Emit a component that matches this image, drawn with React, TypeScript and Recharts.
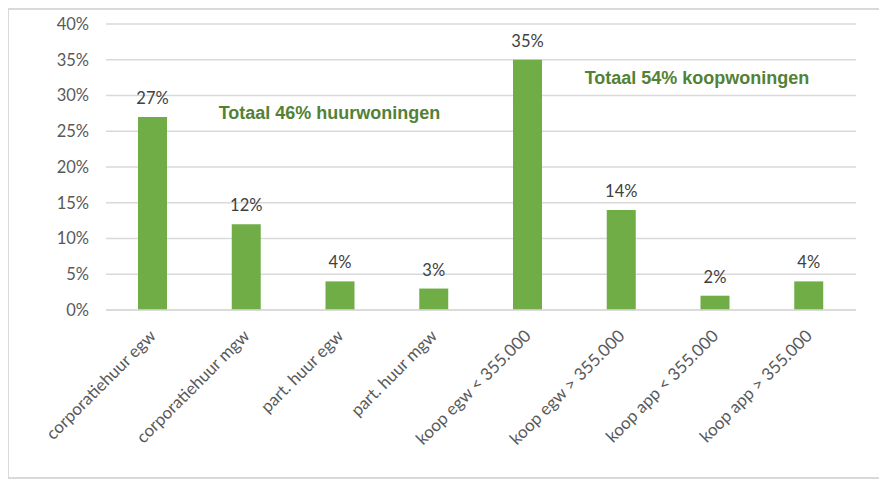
import { Bar, BarChart, CartesianGrid, LabelList, XAxis, YAxis } from "recharts";

const categories = [
  "corporatiehuur egw",
  "corporatiehuur mgw",
  "part. huur egw",
  "part. huur mgw",
  "koop egw < 355.000",
  "koop egw > 355.000",
  "koop app < 355.000",
  "koop app > 355.000",
];
const shares = [27, 12, 4, 3, 35, 14, 2, 4];
const yTicks = [0, 5, 10, 15, 20, 25, 30, 35, 40];

const data = categories.map((name, i) => ({ name, value: shares[i] }));

const FONT = "Lato, 'Open Sans', sans-serif";
const GRID = "#d9d9d9";

function SlantTick({ x, y, payload }: any) {
  return (
    <g transform={`translate(${x + 4},${y + 19}) rotate(-45)`}>
      <text x={0} y={0} textAnchor="end" fill="#595959" fontSize={17} fontFamily={FONT}>
        {payload.value}
      </text>
    </g>
  );
}

const noteStyle: React.CSSProperties = {
  position: "absolute",
  background: "#fff",
  color: "#538135",
  fontFamily: "'Liberation Sans', Arial, sans-serif",
  fontWeight: "bold",
  fontSize: 18,
  display: "flex",
  alignItems: "center",
  justifyContent: "center",
  whiteSpace: "nowrap",
};

export default function App() {
  return (
    <div
      style={{
        position: "relative",
        width: 870,
        height: 467,
        border: `2px solid ${GRID}`,
        marginLeft: -1,
        background: "#fff",
      }}
    >
      <BarChart width={870} height={467} data={data} margin={{ top: 14, right: 23, left: 0, bottom: 0 }}>
        <CartesianGrid vertical={false} stroke={GRID} strokeWidth={1.5} />
        <XAxis
          dataKey="name"
          height={167}
          interval={0}
          tickLine={false}
          axisLine={{ stroke: GRID, strokeWidth: 1.5 }}
          tick={<SlantTick />}
        />
        <YAxis
          width={97}
          domain={[0, 40]}
          ticks={yTicks}
          tickFormatter={(v: number) => `${v}%`}
          axisLine={false}
          tickLine={false}
          tickSize={15}
          tick={{ fontSize: 16.5, fill: "#595959", fontFamily: FONT }}
        />
        <Bar dataKey="value" fill="#70ad47" barSize={29} isAnimationActive={false}>
          <LabelList
            dataKey="value"
            position="top"
            offset={13}
            formatter={(v: any) => `${v}%`}
            style={{ fontSize: 16.5, fill: "#404040", fontFamily: FONT }}
          />
        </Bar>
      </BarChart>
      <div style={{ ...noteStyle, left: 190, top: 87, width: 261, height: 33 }}>Totaal 46% huurwoningen</div>
      <div style={{ ...noteStyle, left: 560, top: 52, width: 256, height: 32 }}>Totaal 54% koopwoningen</div>
    </div>
  );
}
